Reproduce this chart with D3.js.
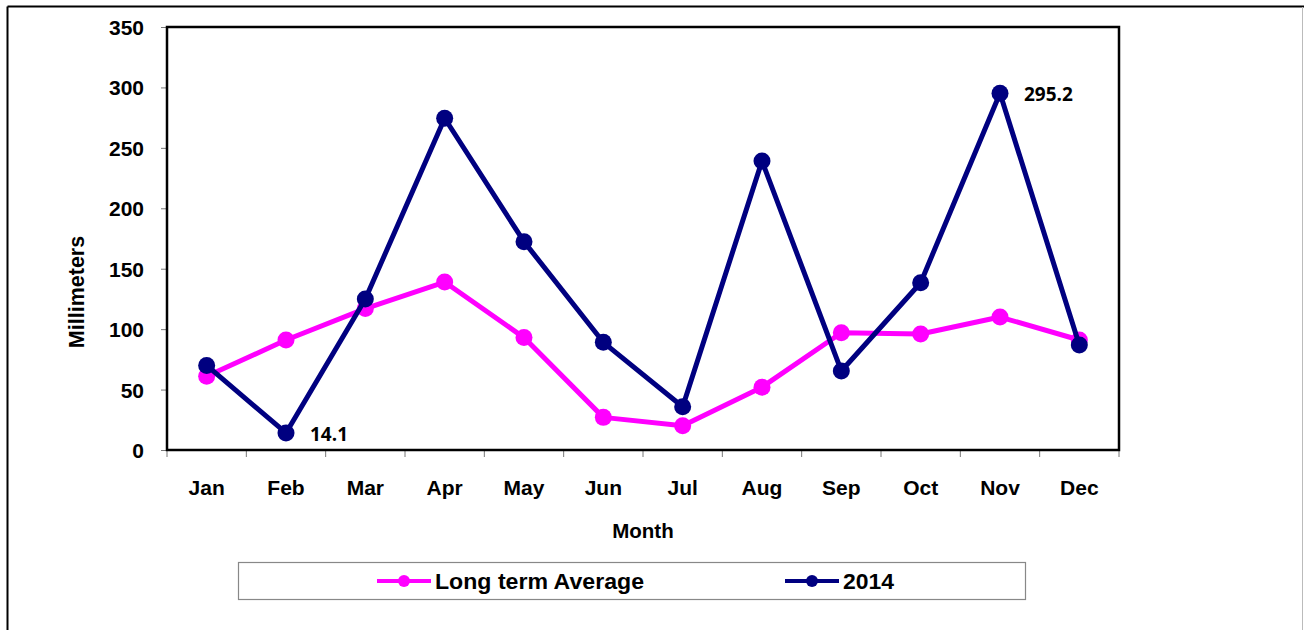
<!DOCTYPE html>
<html>
<head>
<meta charset="utf-8">
<script src="https://cdn.jsdelivr.net/npm/d3@7/dist/d3.min.js"></script>
<style>
  html, body { margin: 0; padding: 0; background: #fff; }
  svg { display: block; }
</style>
</head>
<body>
<svg id="chart" width="1304" height="630"></svg>
<script>
const months = ["Jan","Feb","Mar","Apr","May","Jun","Jul","Aug","Sep","Oct","Nov","Dec"];
const longTermAverage = [61, 91, 117, 139, 93, 27, 20, 52, 97, 96, 110, 91];
const rain2014 = [70, 14.1, 125, 274.5, 172.4, 89.1, 35.8, 239.1, 65.4, 138.4, 295.2, 86.9];
const yTicks = [0, 50, 100, 150, 200, 250, 300, 350];
const seriesNames = ["Long term Average", "2014"];
const seriesColors = ["#FF00FF", "#000080"];
const annotations = [{month: "Feb", value: 14.1, text: "14.1"}, {month: "Nov", value: 295.2, text: "295.2"}];

const svg = d3.select("#chart");
const plot = {left: 167, right: 1119, top: 27, bottom: 450};

// outer frame
svg.append("line").attr("x1", 7.5).attr("y1", 6.5).attr("x2", 1304).attr("y2", 6.5).attr("stroke", "#000").attr("stroke-width", 2);
svg.append("line").attr("x1", 7.5).attr("y1", 6.5).attr("x2", 7.5).attr("y2", 630).attr("stroke", "#000").attr("stroke-width", 2);
svg.append("line").attr("x1", 1302.5).attr("y1", 7).attr("x2", 1302.5).attr("y2", 630).attr("stroke", "#bbb").attr("stroke-width", 1);

const x = d3.scaleBand().domain(months).range([plot.left, plot.right]).padding(0);
const y = d3.scaleLinear().domain([0, 350]).range([plot.bottom, plot.top]);
const cx = d => x(d) + x.bandwidth() / 2;

// Y axis
const yAxis = d3.axisLeft(y).tickValues(yTicks).tickSize(6).tickPadding(17);
const gy = svg.append("g").attr("transform", `translate(${plot.left},0)`).call(yAxis);
gy.select(".domain").remove();
gy.selectAll(".tick line").attr("stroke", "#777").attr("stroke-width", 1);
gy.selectAll(".tick text")
  .attr("font-family", "'Liberation Sans', Arial, sans-serif")
  .attr("font-weight", "bold").attr("font-size", 21).attr("fill", "#000").attr("dy", "0.36em");

// X axis (labels at band centers, ticks at band boundaries)
const gx = svg.append("g").attr("transform", `translate(0,${plot.bottom})`);
gx.selectAll("line.tk").data(months.concat(["__end"])).enter().append("line")
  .attr("x1", (d, i) => i < months.length ? x(d) : plot.right)
  .attr("x2", (d, i) => i < months.length ? x(d) : plot.right)
  .attr("y1", 0).attr("y2", 7).attr("stroke", "#777").attr("stroke-width", 1);
gx.selectAll("text").data(months).enter().append("text")
  .attr("x", d => cx(d)).attr("y", 45)
  .attr("text-anchor", "middle")
  .attr("font-family", "'Liberation Sans', Arial, sans-serif")
  .attr("font-weight", "bold").attr("font-size", 21).attr("fill", "#000")
  .text(d => d);

// plot frame
svg.append("rect").attr("x", plot.left).attr("y", plot.top)
  .attr("width", plot.right - plot.left).attr("height", plot.bottom - plot.top)
  .attr("fill", "none").attr("stroke", "#000").attr("stroke-width", 2.5);

// axis titles
svg.append("text").attr("x", (plot.left + plot.right) / 2).attr("y", 538)
  .attr("text-anchor", "middle")
  .attr("font-family", "'Liberation Sans', Arial, sans-serif")
  .attr("font-weight", "bold").attr("font-size", 20.5).text("Month");
svg.append("text").attr("transform", "translate(84,292) rotate(-90)")
  .attr("text-anchor", "middle")
  .attr("font-family", "'Liberation Sans', Arial, sans-serif")
  .attr("font-weight", "bold").attr("font-size", 21.5).text("Millimeters");

// series
const line = d3.line().x(d => cx(d.m)).y(d => y(d.v));
const series = [longTermAverage, rain2014].map((vals, i) => ({
  name: seriesNames[i], color: seriesColors[i],
  pts: months.map((m, j) => ({m, v: vals[j]}))
}));
series.forEach(s => {
  const g = svg.append("g");
  g.append("path").datum(s.pts).attr("d", line)
    .attr("fill", "none").attr("stroke", s.color).attr("stroke-width", 5)
    .attr("stroke-linejoin", "round");
  g.selectAll("circle").data(s.pts).enter().append("circle")
    .attr("cx", d => cx(d.m)).attr("cy", d => y(d.v)).attr("r", 8.5)
    .attr("fill", s.color);
});

// annotations
annotations.forEach(a => {
  svg.append("text").attr("x", cx(a.month) + 24).attr("y", y(a.value) + 8)
    .attr("font-family", "'Open Sans', sans-serif")
    .attr("font-weight", "bold").attr("font-size", 19).attr("fill", "#000")
    .text(a.text);
});

// legend
const lg = svg.append("g");
lg.append("rect").attr("x", 238.5).attr("y", 562.5).attr("width", 787).attr("height", 37)
  .attr("fill", "#fff").attr("stroke", "#888").attr("stroke-width", 1.2);
const legendX = [377, 785];
const legendTextW = [209, 51];
series.forEach((s, i) => {
  const lx = legendX[i];
  lg.append("line").attr("x1", lx).attr("x2", lx + 54).attr("y1", 581).attr("y2", 581)
    .attr("stroke", s.color).attr("stroke-width", 4);
  lg.append("circle").attr("cx", lx + 27).attr("cy", 581).attr("r", 6).attr("fill", s.color);
  lg.append("text").attr("x", lx + 58).attr("y", 589)
    .attr("font-family", "'Liberation Sans', Arial, sans-serif")
    .attr("font-weight", "bold").attr("font-size", 22)
    .attr("textLength", legendTextW[i]).attr("lengthAdjust", "spacingAndGlyphs")
    .text(s.name);
});
</script>
</body>
</html>
